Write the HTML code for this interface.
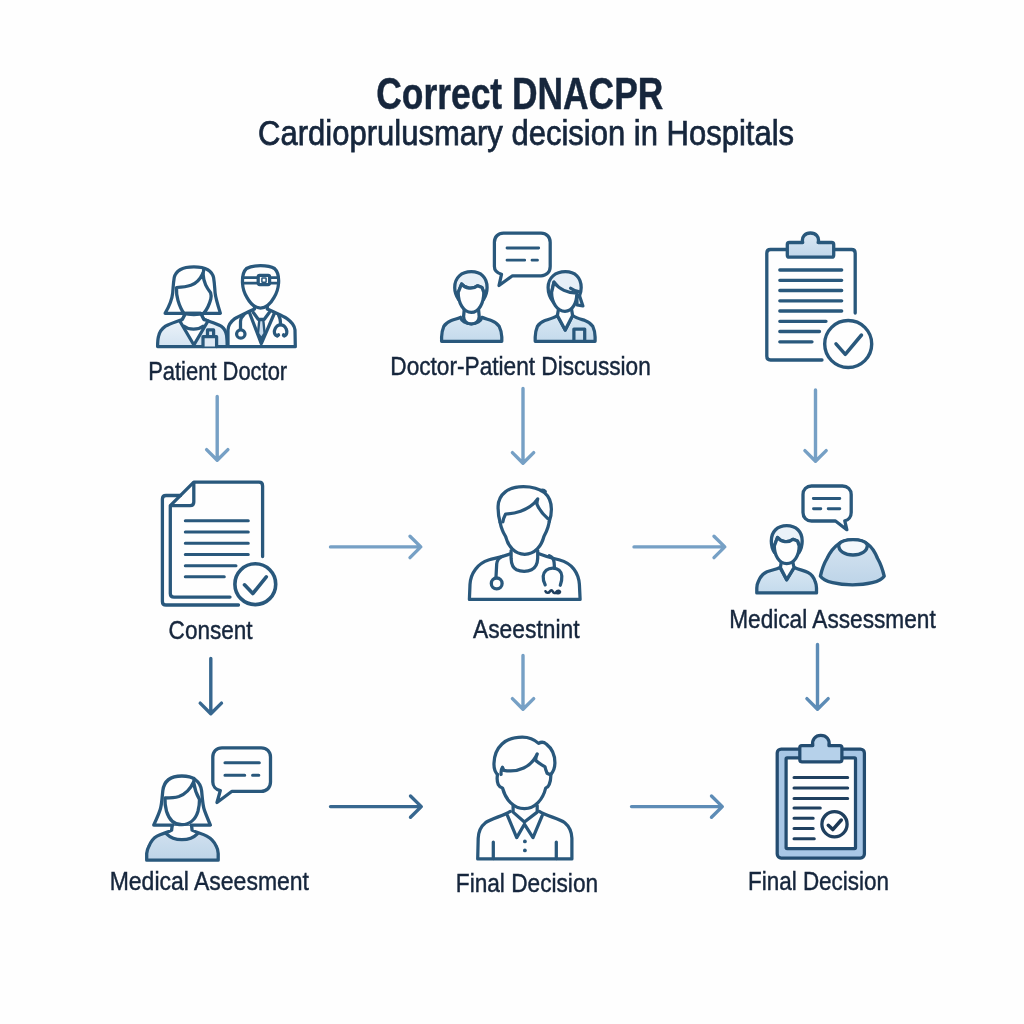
<!DOCTYPE html>
<html><head><meta charset="utf-8">
<style>
html,body{margin:0;padding:0;background:#fefefe;}
body{width:1024px;height:1024px;overflow:hidden;font-family:"Liberation Sans",sans-serif;}
svg{display:block;will-change:transform;opacity:0.9999}
text{font-family:"Liberation Sans",sans-serif;fill:#16263c;stroke:#16263c;stroke-width:0.45px;}
.s{fill:none;stroke:#29587c;stroke-width:3.25;stroke-linecap:round;stroke-linejoin:round}
.f{fill:url(#g);stroke:#29587c;stroke-width:3.25;stroke-linecap:round;stroke-linejoin:round}
.w{fill:#fefefe;stroke:#29587c;stroke-width:3.25;stroke-linecap:round;stroke-linejoin:round}
.al{fill:none;stroke:#76a0c5;stroke-width:3.4;stroke-linecap:round;stroke-linejoin:round}
.am{fill:none;stroke:#5d8cb6;stroke-width:3.4;stroke-linecap:round;stroke-linejoin:round}
.ad{fill:none;stroke:#37678f;stroke-width:3.4;stroke-linecap:round;stroke-linejoin:round}
</style></head><body>
<svg width="1024" height="1024" viewBox="0 0 1024 1024">
<rect width="1024" height="1024" fill="#fefefe"/>
<defs>
<linearGradient id="g" x1="0" y1="0" x2="0" y2="1"><stop offset="0" stop-color="#d8e7f3"/><stop offset="1" stop-color="#c4daec"/></linearGradient>
<linearGradient id="gl" x1="0" y1="0" x2="0" y2="1"><stop offset="0" stop-color="#f3f7fb"/><stop offset="1" stop-color="#d3e3f1"/></linearGradient>
<linearGradient id="gc" x1="0" y1="0" x2="0" y2="1"><stop offset="0" stop-color="#dbe8f4"/><stop offset="1" stop-color="#c0d6ea"/></linearGradient>
<linearGradient id="gd" x1="0" y1="0" x2="0" y2="1"><stop offset="0" stop-color="#d6e4f1"/><stop offset="1" stop-color="#bdd4e8"/></linearGradient>
</defs>
<!-- TITLE -->
<text x="376.3" y="108.5" font-size="43.5" font-weight="bold" textLength="287" lengthAdjust="spacingAndGlyphs">Correct DNACPR</text>
<text x="258.1" y="144.6" font-size="35.5" textLength="536" lengthAdjust="spacingAndGlyphs" style="stroke-width:0.75px">Cardioprulusmary decision in Hospitals</text>

<!-- LABELS -->
<g font-size="26.3" style="stroke-width:0.6px">
<text x="148.2" y="379.6" textLength="139" lengthAdjust="spacingAndGlyphs">Patient Doctor</text>
<text x="390.3" y="374.5" textLength="260.5" lengthAdjust="spacingAndGlyphs">Doctor-Patient Discussion</text>
<text x="168.6" y="639.2" textLength="84" lengthAdjust="spacingAndGlyphs">Consent</text>
<text x="473" y="638.1" textLength="106.5" lengthAdjust="spacingAndGlyphs">Aseestnint</text>
<text x="729.2" y="627.7" textLength="206.5" lengthAdjust="spacingAndGlyphs">Medical Assessment</text>
<text x="109.7" y="890.3" textLength="199.3" lengthAdjust="spacingAndGlyphs">Medical Aseesment</text>
<text x="455.8" y="892.3" textLength="142.3" lengthAdjust="spacingAndGlyphs">Final Decision</text>
<text x="748" y="890.3" textLength="141" lengthAdjust="spacingAndGlyphs">Final Decision</text>
</g>

<!-- ARROWS -->
<g id="arrows">
<path class="al" d="M217.2 396.5V460M206.6 449.6L217.2 460.3L227.9 449.6"/>
<path class="al" d="M523 388.5V463M512.4 452.6L523 463.3L533.7 452.6"/>
<path class="al" d="M815.5 390V461M804.9 450.6L815.5 461.3L826.2 450.6"/>
<path class="ad" d="M210.8 658.5V713.5M200.2 703.1L210.8 713.8L221.5 703.1"/>
<path class="al" d="M523 655.5V709M512.4 698.6L523 709.3L533.7 698.6"/>
<path class="am" d="M817.5 644.5V709M806.9 698.6L817.5 709.3L828.2 698.6"/>
<path class="al" d="M330.5 546.9H420.5M410 536.3L420.8 546.9L410 557.6"/>
<path class="al" d="M634 546.9H724.5M714 536.3L724.8 546.9L714 557.6"/>
<path class="ad" d="M330.5 806.6H421M410.5 796L421.3 806.6L410.5 817.3"/>
<path class="am" d="M631.5 806.6H722M711.5 796L722.3 806.6L711.5 817.3"/>
</g>

<!-- ICONS -->
<g id="ic1">
<!-- woman body -->
<path class="f" style="fill:url(#gl)" d="M157.6 346.6C157.6 342 157.8 339 158.5 336.5C159.5 331.5 162 328.5 165.5 326.1C170 323.5 177 321.5 182.5 319.3L185.6 313.3H200.7L203.7 319.3C209 321.5 216.5 323.5 221.1 326.1C224.5 328.5 226 331.5 226.6 335.5C227 339 227.2 342 227.2 346.6Z"/>
<!-- v-neck white -->
<path class="w" d="M179.8 321L193.9 345L208 321C205.5 320 204.3 319.7 203.7 319.3L200.7 313.3H185.6L182.5 319.3C181.8 319.7 181 320.2 179.8 321Z"/>
<path class="s" d="M184.1 326.3C189 330.2 198 330.2 203 326.3"/>
<!-- badge -->
<path class="f" style="fill:#dfeaf5" d="M203 346.6V336.7H216.6V346.6M207.5 336.7V329.9H213.6V336.7"/>
<!-- hair -->
<path class="w" d="M165.1 313.3C170.5 304 172.2 298 172.7 292.8C173.2 287 173.3 283 174.2 277.7C175.8 270.5 183 266.8 193.9 266.8C204.5 266.8 212 270.5 213.6 277.7C214.5 283 214.6 287 215.1 292.8C215.6 298 217.5 304 220.4 313.3H203.7C207 309.5 209.5 304 210.8 299C211.3 296.5 211 294 210.6 292.8C207 288 203.5 283 203 273.2C200 279.5 196 283.5 190.9 285.3C186 287 181 287.3 176.5 287.5C176.3 292 176.8 296.5 178 300.4C179.5 305.5 181.5 310 184 313.3Z"/>
<path class="s" d="M184 313.3C186.5 314.3 190 314.6 193.9 314.6C198 314.6 201 314.3 203.7 313.3"/>
<path class="s" d="M203 273.2C203.6 271.5 203.8 270.5 203.6 269.5"/>
<!-- doctor body -->
<path class="w" d="M228 346.6V330C228.1 326 229.5 322.5 234.8 318.6C239 316 244 314 248.4 311.8L254.5 309V304H267.3V309L273.4 311.8C278 314 283 316 287 318.6C292.5 322.5 294.6 326 295 330L295.3 346.6Z"/>
<path class="s" d="M249.6 313L261.3 343.6L274.5 313"/>
<path class="s" d="M253.3 312.5L258.2 319.3H264.3L269.3 312.5"/>
<path class="f" style="fill:#c9dbec;stroke-width:2.4" d="M259.3 320H263.3L264.6 333.5L261.3 338.5L258 333.5Z"/>
<!-- stethoscope -->
<path class="s" d="M243.9 314.8C241.5 317 240.5 319 240.5 321.6V329"/>
<circle class="s" cx="240.8" cy="334" r="4.2"/>
<path class="s" d="M278.7 315.5C280 317.5 280.5 320 280.5 324.6"/>
<path class="s" d="M277.5 335.8C274 335.5 273.8 331.5 275 329C276.3 326 278 324.8 280.5 324.8C283 324.8 285 326 286.2 329C287.3 331.5 287.2 335.5 284 335.8"/>
<path class="s" style="stroke-width:3.6" d="M277.2 335.6L278.4 335M284.4 335.6L283.6 335"/>
<!-- doctor head -->
<path class="w" d="M242.5 283C242.2 276 243.2 271.5 246.5 268.5C250 266.3 254.5 265.6 260.5 265.6C266.5 265.6 271 266.3 274.5 268.5C277.8 271.5 279 276 278.6 283C278.2 289 276.5 293.5 274.1 297.4C271 303 266.5 308 260.5 308C254.5 308 250 303 246.9 297.4C244.5 293.5 242.8 289 242.5 283Z"/>
<path class="s" style="stroke-width:2.7" d="M243 277.7H258M270 277.7H278M243 283.1H258M270 283.1H278"/>
<rect class="s" x="258.2" y="275.4" width="11.4" height="9.2" rx="1.5"/>
<rect class="s" style="stroke-width:1.5" x="261.9" y="278" width="4.2" height="4.2" rx="0.5"/>
</g>
<g id="ic2">
<!-- bubble -->
<path class="s" d="M503.5 233.2H541C546.5 233.2 550.2 237 550.2 242.3V266.5C550.2 272 546.5 275.8 541 275.8H512.5L499 285.5L501.5 274.3C497.3 273 494.4 270 494.4 266.5V242.3C494.4 237 498 233.2 503.5 233.2Z"/>
<path class="s" style="stroke-width:2.8" d="M507 248H538.7M507 260.2H524.7M532 260.2H537.5"/>
<!-- left person -->
<path class="f" d="M441.6 341.3V337C441.7 333 442.5 329.5 443.8 326.4C445.5 323.5 448 321.8 450.8 320.7C454.5 319.3 458 318.7 460.5 317.3C461.5 321 465.5 323.8 471.3 323.8C477 323.8 481 321 481.9 317.3C484.5 318.7 488 319.3 491.8 320.7C494.8 321.8 497.5 323.5 499.2 326.4C500.7 329.5 501.6 333 501.8 337V341.3Z"/>
<path class="w" d="M464.2 310L463.6 316.5C463.8 321.5 466.5 323.8 471.3 323.8C476.3 323.8 479 321.5 479.2 316.5L478.6 310"/>
<path class="f" style="fill:#e6eff7" d="M458.6 299.5C455.5 295 454.7 291 454.7 287.5C454.7 277.5 461.5 271.7 471.3 271.7C481 271.7 487.1 277.5 487.1 287.5C487.1 291 486.3 295 483.6 299.5L483.8 292.5L482 287.5L477.5 285.8C473 289.7 465 288.7 461.6 284L458.2 292.5Z"/>
<path class="w" d="M458.2 292.5L461.6 284C465 288.7 473 289.7 477.5 285.8L482 287.5L483.8 292.5C483.8 303 479 312.4 471.3 312.4C463.5 312.4 458.2 303 458.2 292.5Z"/>
<!-- right person -->
<path class="f" d="M535.2 341.3V337C535.3 333 536.1 329.5 537.4 326.4C539.1 323.5 541.6 321.8 544.4 320.7C548.5 319.3 553.5 318.3 557.4 315.5L565.2 330L572.6 315.5C576.5 318.3 581.5 319.3 585.4 320.7C588.4 321.8 591.1 323.5 592.8 326.4C594.3 329.5 595 333 595.1 337V341.3Z"/>
<path class="w" d="M557.4 315.5L565.2 330L572.6 315.5L571.5 309H558.5Z"/>
<rect class="f" x="573.9" y="329" width="10.8" height="12.3"/>
<path class="f" style="fill:#e6eff7" d="M576.8 296L579.4 295.5L582.9 305.9L577 305Z"/>
<path class="f" style="fill:#e6eff7" d="M553.2 302C549.3 297 548.1 292 548.1 287.5C548.1 277.5 555.5 271.7 565.4 271.7C575 271.7 581.2 277.5 581.2 287.5C581.2 290 580.8 292.5 579.6 295.5L576.8 295.5C570 295 559 291 554 282.2L551.6 292.5Z"/>
<path class="w" d="M551.6 292.5L554 282.2C559 289 568 293 576.8 293.2C576.8 303 572.5 311.3 565 311.3C557.5 311.3 551.6 303 551.6 292.5Z"/>
<path class="s" d="M570.6 288.3C573.5 290.5 577 291.5 579.6 291.8"/>
</g>
<g id="ic3">
<path class="s" style="stroke-width:3.3" d="M822 360H770.5C768.3 360 766.8 358.5 766.8 356.3V253.2C766.8 251 768.3 249.5 770.5 249.5H787M834 249.5H851.5C853.7 249.5 855.2 251 855.2 253.2V313"/>
<path class="f" style="fill:url(#gc);stroke-width:3.3" d="M789.3 242.5H802.7C801.3 236.7 805.2 233 810.4 233C815.8 233 819.6 236.7 818.2 242.5H831.7C833 242.5 833.7 243.2 833.7 244.5V255.2C833.7 256.5 833 257.2 831.7 257.2H789.3C788 257.2 787.3 256.5 787.3 255.2V244.5C787.3 243.2 788 242.5 789.3 242.5Z"/>
<path class="s" style="stroke-width:3.3" d="M779.8 270H841.7M779.8 280.3H841.7M779.8 290.5H841.7M779.8 300.8H841.7M779.8 311H841.7M779.8 321.3H826M779.8 331.5H819.5M779.8 341.8H812"/>
<circle class="s" style="stroke-width:3.4" cx="848.2" cy="344" r="23.5"/>
<path class="s" style="stroke-width:3.5" d="M836 343.8L845.3 354.3L861.5 335"/>
</g>
<g id="ic4">
<path class="s" style="stroke-width:3.3" d="M180.5 495.5H166C163.8 495.5 162.4 496.9 162.4 499.1V601.4C162.4 603.6 163.8 605 166 605H238.5"/>
<path class="s" style="stroke-width:3.3" d="M230 597.1H174C171.8 597.1 170.3 595.6 170.3 593.4V505.7L193.8 482.2H259C261.2 482.2 262.6 483.7 262.6 485.9V556.5"/>
<path class="s" style="stroke-width:3.3" d="M171 505.6H190.1C192.3 505.6 193.8 504.1 193.8 501.9V483"/>
<path class="s" style="stroke-width:3" d="M185.3 520.8H248.3M185.3 532H248.3M185.3 543.2H248.3M185.3 554.5H248.3M185.3 565.7H236M185.3 576.8H224.3"/>
<circle class="s" style="stroke-width:3.6" cx="255.3" cy="584.2" r="20.4"/>
<path class="s" style="stroke-width:3.6" d="M244.5 584.8L252.8 593.5L266.3 576.8"/>
</g>
<g id="ic5">
<!-- shoulders -->
<path class="s" d="M510.5 553.8C502 557 496 558 489.2 559.8C483 561.8 478.5 565 475.5 569.3C472 574 470.3 579 470 584.4L469.4 599.4H580.1L579.4 584.4C579 579 577.5 574 574 569.3C571 565 566 561.8 558.9 559.8C552.5 558 547 557 539 553.8"/>
<!-- neck + collar -->
<path class="s" d="M511.1 550.5V558.4C511.3 564 513 568 516.5 569.8C521 571.8 527.5 571.8 531.5 569.8C535.5 567.8 537.5 563.5 537.7 558.4V550.5"/>
<!-- head outer -->
<path class="s" d="M500.1 522.2C498.5 517 498 511.5 498.1 506.4C498.5 494 508.5 486.6 523.4 486.6C532 486.6 539.5 488.8 544.6 492.8C549 496.5 551.3 502.5 551.4 509.2C551.4 513.5 550.6 518 549.3 521.5"/>
<path class="s" d="M541 490.5C542.5 489.8 544.3 490.3 545.3 491.5"/>
<!-- face -->
<path class="s" d="M500.1 522.2C500.6 525 501.3 527.5 502.2 529.7C503.2 532.5 504.5 534.5 505.6 536.5C508 546 514.5 554.3 524.7 554.3C535 554.3 541.5 546 543.9 536.5C545.5 533.5 547 530.5 548 527C548.6 525 549 523 549.3 521.5"/>
<!-- fringe -->
<path class="s" d="M502.9 521.8C503.3 519 504.3 516.5 505.6 514C511 513.8 516 512.8 520.6 511.2C528 508.5 534 504.5 537.7 498.9C537 501 536.8 502.8 537 504.4C539.5 510 543.5 515 548 518.8"/>
<!-- stethoscope -->
<path class="s" d="M502.2 556.4C498.8 558 497 560.5 496.7 563.9L496 577"/>
<circle class="s" style="stroke-width:3.3" cx="496.7" cy="583.4" r="5.4"/>
<path class="s" d="M549.3 555.7C552.5 557 553.8 559.5 554.1 562.5L554.5 568"/>
<path class="s" d="M545.2 584.8C543.5 582 543 579 543.2 576.2C543.8 571 547.5 568 552.8 568C558 568 561.5 571 561.8 576.2C562 579 561.5 582 560.3 585.2"/>
<path class="s" style="stroke:#1f3f5f;stroke-width:2.6" d="M545.5 591.3C546.3 593.2 548.8 593.2 549.8 591.5C550.8 590 552 590 552.8 591.5C553.5 593.2 555 593.5 556 592.3C557.5 590.3 559.5 590.3 560 591.8C559.5 593.5 557 593.8 556 592.3"/>
</g>
<g id="ic6">
<!-- bubble -->
<path class="s" style="stroke-width:3.3" d="M811.5 486H842.5C847.5 486 851.2 489.6 851.2 494.6V512.4C851.2 516.8 848.5 520 844.8 520.8L846.8 529.7L835.5 521H811.5C806.5 521 803 517.4 803 512.4V494.6C803 489.6 806.5 486 811.5 486Z"/>
<path class="s" style="stroke-width:2.9" d="M813.3 498.5H839.8M813.5 508.7H820.8M828.2 508.7H839.8"/>
<!-- person -->
<path class="f" style="stroke-width:3.3" d="M756.8 592.9V588C756.9 585 757.3 583.5 758.2 581.9C760 577 763 573.5 767 571.7C771.5 570 776 569.5 780 567.5L786.7 579.7L794.3 567.5C798.5 569.5 803.5 570.5 808 572.4C811.5 574 813.8 577 815.3 581.9C816 583.5 816.4 585 816.5 588V592.9Z"/>
<path class="w" d="M780.4 567.5L786.7 579.7L794 567.5L792.8 562H781.3Z"/>
<path class="f" style="fill:#eaf2f9;stroke-width:3.3" d="M774.5 552.5C771.8 548.5 771.3 544.5 771.3 541C771.3 531.5 777.5 525.6 786.7 525.6C796 525.6 802.2 531.5 802.2 541C802.2 544.5 801.6 548.5 799 552.5L799.2 546L797.5 541L793 539.3C788.5 543.2 781 542.2 777.5 537.5L774.3 546Z"/>
<path class="w" style="stroke-width:3.3" d="M774.3 546L777.5 537.5C781 542.2 788.5 543.2 793 539.3L797.5 541L799.2 546C799.2 555.5 794.3 563.6 786.7 563.6C779.2 563.6 774.3 555.5 774.3 546Z"/>
<!-- dome -->
<path class="f" style="fill:url(#gd);stroke-width:3.4" d="M820.4 576.1C822 569 824 563.5 827 558.5C830 552 834 547 838.7 543.8C845 538.7 860.5 538.7 867.3 543.8C872 547 875 552 877.6 558.5C880.5 563.5 882.5 569 884.2 576.1C877 587.8 828 587.8 820.4 576.1Z"/>
<path class="w" style="fill:#f4f8fc;stroke-width:3.4" d="M838.7 544.5C843 538 863 538 867.3 544.5C868.5 558.5 837.5 558.5 838.7 544.5Z"/>
</g>
<g id="ic7">
<!-- bubble -->
<path class="s" style="stroke-width:3.3" d="M222 747.8H261.2C266.7 747.8 270.5 751.6 270.5 757.1V782C270.5 787.5 266.7 791.3 261.2 791.3H232L217 802.5L220.3 790.6C215.7 789.6 212.8 786 212.8 782V757.1C212.8 751.6 216.5 747.8 222 747.8Z"/>
<path class="s" style="stroke-width:3.1" d="M225 762.8H259.3M225 775.3H244.7M252.6 775.3H258.8"/>
<!-- body -->
<path d="M146.7 860.2V853.5C147 850.5 147.8 848.3 148.9 846.3C151 841 153.5 838 157 836.1C162 833.5 168 832.5 171.6 830.2L172.4 824H191.4L192.1 830.2C196 832.5 202 833.5 206.8 836.1C210.5 838 214 841 216.3 846.3C217.4 848.3 218 850.5 218.2 853.5V860.2Z" fill="url(#gd)"/>
<path d="M166.5 833.9C171 838.5 176 839.7 181.9 839.7C188 839.7 193 838.5 197.3 833.9L192.1 830.2L191.4 824H172.4L171.6 830.2Z" fill="#fefefe"/>
<path class="s" style="stroke-width:3.3" d="M146.7 860.2V853.5C147 850.5 147.8 848.3 148.9 846.3C151 841 153.5 838 157 836.1C162 833.5 168 832.5 171.6 830.2L172.4 824H191.4L192.1 830.2C196 832.5 202 833.5 206.8 836.1C210.5 838 214 841 216.3 846.3C217.4 848.3 218 850.5 218.2 853.5V860.2Z"/>
<path class="s" style="stroke-width:3.3" d="M166.5 833.9C171 838.5 176 839.7 181.9 839.7C188 839.7 193 838.5 197.3 833.9"/>
<!-- hair -->
<path class="w" style="stroke-width:3.3" d="M172.6 825.1H153.7C158 816 159.8 811.5 160.6 808.2C162 802 162.2 796 162.8 790.7C164 781 171 776 181.9 776C193 776 200.3 781 201.6 790.7C202.2 796 202.4 802 203.8 808.2C204.6 811.5 206.5 816 210.4 825.1H191.2"/>
<path class="s" style="stroke-width:3.3" d="M165 798C164.8 802.5 165.3 807 166.5 811.2C169 819.5 174.5 824.7 181.9 824.7C189.5 824.7 195.5 819.5 198 811.2C199 807 199.6 803 199.5 799.5C197 795 194.6 789 193.6 781.9C190 790 185 794.3 178.9 796.5C174.5 797.8 169.5 798 165 798Z"/>
<path class="s" d="M193.6 781.9C194.3 780.3 194.3 779.3 194 778.5"/>
</g>
<g id="ic8">
<!-- shoulders -->
<path class="s" d="M510.3 811.4C503 816 491.5 818.5 485.5 822.7C480 827 478.4 832 478.2 838.3L477.7 858.9H571.9V838.3C571.7 832 570 827 564.8 822.7C559 818.5 546.5 816 539.3 811.4"/>
<!-- neck -->
<path class="s" d="M513.1 805.5V812.1L524.4 822L537.2 812.1V805.5"/>
<!-- collar -->
<path class="s" d="M507.5 815.7L516.7 837.6L524.4 824.2L533 837.6L542.2 815.7"/>
<path class="s" d="M493.3 842V858.5M556.3 842V858.5"/>
<circle cx="524.9" cy="841.4" r="1.9" fill="#29587c"/><circle cx="524.9" cy="850.4" r="1.9" fill="#29587c"/>
<!-- hair outer -->
<path class="s" d="M497.5 774.6C494.8 771.5 493.8 767 494 763.2C494.5 747 505.5 737 522.3 737C529 737 534.5 739.5 538.6 743.4C541 741.8 544 742 546.4 744.1C552 748.5 555 756 554.9 763.2C554.8 767.5 553.5 771.5 550.7 774.6"/>
<!-- face -->
<path class="s" d="M497.5 774.6C496.8 778.5 497.2 782 498.2 784.5C499.2 786.5 500.8 787.5 502.5 788C505.5 799.5 513.5 808.6 524.4 808.6C535 808.6 543 799.5 545.7 788C547.5 787.5 548.5 786.5 549.2 784.5C550.3 782 551 778.5 550.7 774.6"/>
<!-- fringe -->
<path class="s" d="M501.1 774.5C500.8 771.5 501.3 769 502.5 767.3C503 768.5 503.4 769.5 503.9 770.3C518 773 531.5 767 537.2 754C536 756.5 535.5 758.5 535.8 760.4C538.5 763.5 542.5 765 545 766.8C545.5 769.5 546.3 771.5 547.1 773.2C548.3 773.8 549.5 774.3 550.7 774.6"/>
</g>
<g id="ic9" style="--c:#234c70">
<rect class="s" style="fill:#a8c7e6;stroke:#234c70" x="777.2" y="749.1" width="87.2" height="109" rx="4"/>
<rect class="w" style="stroke:#234c70" x="786.1" y="757.9" width="69.4" height="90.6" rx="1"/>
<path class="s" style="fill:#b6d1ea;stroke:#234c70" d="M801.8 745.6H812.8C811.5 739.5 815.5 735.4 820.8 735.4C826.3 735.4 830.3 739.5 828.9 745.6H839.9C841.2 745.6 841.9 746.3 841.9 747.6V759.8C841.9 761.1 841.2 761.8 839.9 761.8H801.8C800.5 761.8 799.8 761.1 799.8 759.8V747.6C799.8 746.3 800.5 745.6 801.8 745.6Z"/>
<path class="s" style="stroke-width:3;stroke:#1f405f" d="M794 777.6H847.7M794 788.1H847.7M794 798.4H847.7M794 808.1H820.3M794 818.3H813.2M794 828.5H813.2M794 838.8H814.3"/>
<circle class="s" style="stroke:#1f405f;stroke-width:3.3" cx="834.5" cy="824.2" r="12.6"/>
<path class="s" style="stroke:#1c3854;stroke-width:3.5" d="M828.3 825.3L832.8 829.6L841.3 820"/>
</g>
</svg>
</body></html>
